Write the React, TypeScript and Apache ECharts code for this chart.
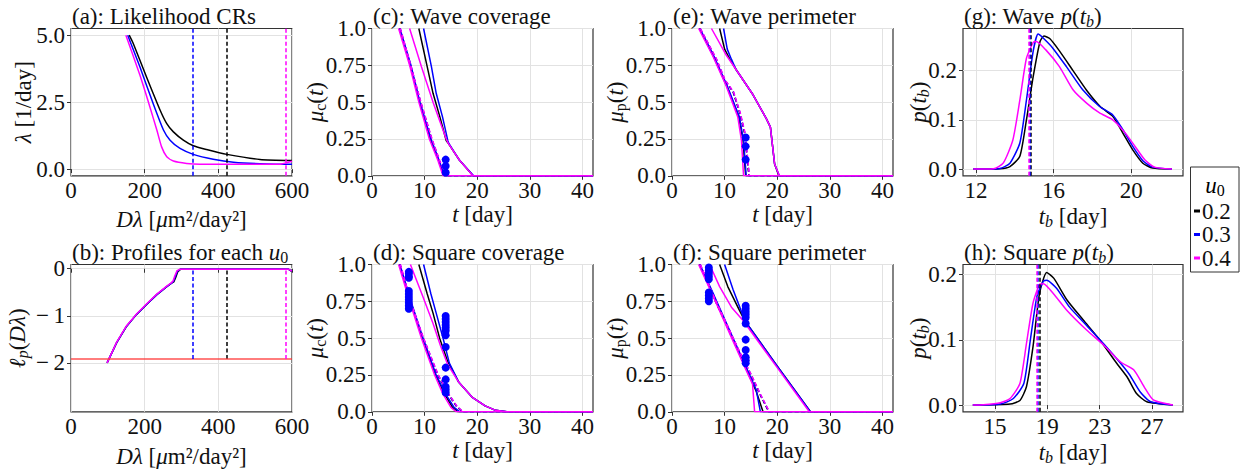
import React, { useEffect, useRef } from "react";
import * as echarts from "echarts";

// ---------- style constants ----------
const FONT = "Liberation Serif";
const FS = 23;
const TXT = "#111111";
const FRAME = "#333333";
const GRIDC = "#e2e2e2";
const COLORS = ["#000000", "#0000ff", "#ff00ff"]; // u0 = 0.2, 0.3, 0.4

// ---------- legend ----------
const u0Labels = ["0.2", "0.3", "0.4"];

// ---------- (a) likelihood CRs ----------
const aXTicks = [0, 200, 400, 600];
const aXTickLabels = ["0", "200", "400", "600"];
const aYTicks = [0, 2.5, 5];
const aYTickLabels = ["0.0", "2.5", "5.0"];
const aBlack = [[158, 5.0], [169, 4.69], [205, 3.44], [242, 2.2], [260, 1.7], [278, 1.39], [305, 1.08], [332, 0.87], [368, 0.73], [423, 0.55], [513, 0.36], [600, 0.32]];
const aBlue = [[154, 5.0], [187, 3.82], [223, 2.45], [251, 1.46], [269, 1.08], [296, 0.77], [332, 0.55], [386, 0.37], [441, 0.26], [531, 0.19], [600, 0.18]];
const aMag = [[149, 5.0], [187, 3.51], [214, 2.33], [233, 1.46], [246, 0.83], [260, 0.46], [278, 0.3], [314, 0.21], [350, 0.18], [567, 0.18], [585, 0.24], [600, 0.29]];
const mleDLambda = [423, 331, 584]; // black, blue, magenta

// ---------- (b) profiles ----------
const bYTicks = [-2, -1, 0];
const bYTickLabels = ["\u2212\u20092", "\u2212\u20091", "0"];
const bBlack = [[98, -2.0], [124, -1.57], [151, -1.22], [178, -0.97], [205, -0.76], [233, -0.55], [260, -0.38], [272, -0.31], [279, -0.28], [284, -0.19], [290, -0.06], [298, -0.01], [590, -0.01], [600, -0.06]];
const bBlue = [[98, -2.0], [124, -1.57], [151, -1.22], [178, -0.97], [205, -0.76], [233, -0.55], [260, -0.38], [272, -0.31], [278, -0.27], [283, -0.17], [289, -0.05], [297, -0.01], [590, -0.01], [600, -0.05]];
const bMag = [[98, -2.0], [124, -1.56], [151, -1.21], [178, -0.96], [205, -0.75], [233, -0.54], [260, -0.37], [272, -0.3], [277, -0.26], [282, -0.15], [288, -0.04], [296, -0.01], [590, -0.01], [600, -0.05]];
const bThreshold = -1.92;

// ---------- shared t axis (c-f) ----------
const tTicks = [0, 10, 20, 30, 40];
const tTickLabels = ["0", "10", "20", "30", "40"];
const muTicks = [0, 0.25, 0.5, 0.75, 1];
const muTickLabels = ["0.0", "0.25", "0.5", "0.75", "1.0"];

// ---------- (c) wave coverage ----------
const cLowBlack = [[5.2, 1], [7.3, 0.75], [9.05, 0.5], [11.1, 0.25], [12.7, 0.1], [13.7, 0], [42, 0]];
const cLowBlue = [[5.3, 1], [7.4, 0.75], [9.1, 0.5], [11.2, 0.25], [12.8, 0.1], [13.8, 0], [42, 0]];
const cLowMag = [[5.06, 1], [7.15, 0.75], [8.9, 0.5], [10.9, 0.25], [12.5, 0.107], [13.5, 0], [42, 0]];
const cUpBlack = [[8.9, 1], [10.5, 0.74], [11.6, 0.56], [12.9, 0.4], [14.1, 0.24], [14.5, 0.22], [16.6, 0.107], [19.2, 0], [42, 0]];
const cUpBlue = [[9.8, 1], [11.3, 0.74], [12.2, 0.56], [13.4, 0.4], [14.4, 0.24], [14.6, 0.22], [16.6, 0.107], [19.3, 0], [42, 0]];
const cUpMag = [[7.15, 1], [9.4, 0.74], [11.6, 0.5], [14.1, 0.25], [14.5, 0.22], [16.6, 0.107], [19.2, 0], [42, 0]];
const cMleBlack = [[5.3, 1], [7.5, 0.72], [9.2, 0.5], [11.3, 0.25], [12.8, 0.1], [14.1, 0], [42, 0]];
const cMleBlue = [[5.35, 1], [7.55, 0.72], [9.25, 0.5], [11.35, 0.25], [12.85, 0.1], [14.15, 0], [42, 0]];
const cMleMag = [[5.4, 1], [7.6, 0.72], [9.3, 0.5], [11.4, 0.25], [12.9, 0.1], [14.2, 0], [42, 0]];
const cDots = [[14, 0.11], [14, 0.066], [14, 0.023]];

// ---------- (d) square coverage ----------
const dLowBlack = [[5.2, 1], [7.3, 0.75], [9.6, 0.5], [12.1, 0.25], [13.8, 0.12], [15.3, 0.03], [16.3, 0], [42, 0]];
const dLowBlue = [[5.3, 1], [7.4, 0.75], [9.7, 0.5], [12.2, 0.25], [14.0, 0.12], [15.6, 0.03], [16.7, 0], [42, 0]];
const dLowMag = [[5.06, 1], [7.15, 0.75], [9.4, 0.5], [11.9, 0.25], [13.5, 0.12], [15.0, 0.03], [16.0, 0], [42, 0]];
const dUpBlack = [[8.9, 1], [10.5, 0.8], [11.6, 0.67], [12.85, 0.5], [14.4, 0.34], [16.5, 0.2], [19, 0.1], [21.5, 0.04], [23.5, 0.01], [25.6, 0], [42, 0]];
const dUpBlue = [[9.8, 1], [11.2, 0.8], [12.2, 0.67], [13.5, 0.5], [14.7, 0.33], [16.5, 0.2], [19, 0.1], [21.5, 0.04], [23.5, 0.01], [25.7, 0], [42, 0]];
const dUpMag = [[7.3, 1], [9.7, 0.78], [11.6, 0.6], [13, 0.45], [14.4, 0.32], [16.5, 0.2], [19, 0.1], [21.5, 0.04], [23.5, 0.01], [25.5, 0], [42, 0]];
const dMleBlack = [[5.3, 1], [7.5, 0.72], [9.7, 0.5], [12.5, 0.25], [14.5, 0.12], [16.0, 0.04], [17.2, 0], [42, 0]];
const dMleBlue = [[5.35, 1], [7.55, 0.72], [9.75, 0.5], [12.55, 0.25], [14.55, 0.12], [16.05, 0.04], [17.25, 0], [42, 0]];
const dMleMag = [[5.4, 1], [7.6, 0.72], [9.8, 0.5], [12.6, 0.25], [14.6, 0.12], [16.1, 0.04], [17.3, 0], [42, 0]];
const dDots = [[7, 0.95], [7, 0.94], [7, 0.92], [7, 0.91], [7, 0.82], [7, 0.8], [7, 0.78], [7, 0.76], [7, 0.74], [7, 0.72], [7, 0.7],
  [14, 0.65], [14, 0.63], [14, 0.61], [14, 0.59], [14, 0.57], [14, 0.55], [14, 0.52], [14, 0.44], [14, 0.3], [14, 0.22], [14, 0.17], [14, 0.15], [14, 0.13]];

// ---------- (e) wave perimeter ----------
const eLowBlack = [[5.2, 1], [7.9, 0.81], [10.4, 0.61], [12.7, 0.4], [13.5, 0.24], [14.0, 0], [42, 0]];
const eLowBlue = [[5.3, 1], [8.0, 0.81], [10.5, 0.61], [12.8, 0.4], [13.6, 0.24], [14.1, 0], [42, 0]];
const eLowMag = [[5.06, 1], [7.8, 0.81], [10.3, 0.61], [12.5, 0.4], [13.2, 0.24], [13.6, 0], [42, 0]];
const eUpBlack = [[9.05, 1], [10.0, 0.86], [11.0, 0.79], [12.2, 0.72], [15.4, 0.55], [17.9, 0.39], [18.7, 0.33], [19.5, 0.08], [20.3, 0], [42, 0]];
const eUpBlue = [[9.8, 1], [10.5, 0.86], [11.3, 0.79], [12.2, 0.72], [15.4, 0.55], [17.9, 0.39], [18.7, 0.33], [19.5, 0.08], [20.4, 0], [42, 0]];
const eUpMag = [[7.5, 1], [9.05, 0.9], [10.3, 0.82], [12.2, 0.72], [15.4, 0.55], [17.9, 0.39], [18.7, 0.33], [19.5, 0.08], [20.4, 0], [42, 0]];
const eMleBlack = [[5.3, 1], [8.4, 0.79], [10.0, 0.65], [11.6, 0.57], [12.85, 0.43], [13.8, 0.29], [14.5, 0.04], [14.6, 0], [42, 0]];
const eMleBlue = [[5.35, 1], [8.45, 0.79], [10.05, 0.65], [11.65, 0.57], [12.9, 0.43], [13.85, 0.29], [14.55, 0.04], [14.65, 0], [42, 0]];
const eMleMag = [[5.4, 1], [8.5, 0.79], [10.1, 0.65], [11.7, 0.57], [12.95, 0.43], [13.9, 0.29], [14.6, 0.04], [14.7, 0], [42, 0]];
const eDots = [[14, 0.26], [14, 0.2], [14, 0.11]];

// ---------- (f) square perimeter ----------
const fLowBlack = [[5.2, 1], [8, 0.78], [11.6, 0.49], [14, 0.3], [16, 0.14], [17.3, 0], [42, 0]];
const fLowBlue = [[5.3, 1], [8, 0.79], [11.6, 0.5], [14, 0.31], [16, 0.15], [16.8, 0], [42, 0]];
const fLowMag = [[5.06, 1], [8, 0.77], [11.6, 0.48], [14, 0.29], [15.3, 0.19], [15.7, 0], [42, 0]];
const fUpBlack = [[9.05, 1], [10.6, 0.85], [12.8, 0.69], [13.8, 0.62], [20, 0.31], [26.3, 0], [42, 0]];
const fUpBlue = [[10, 1], [11.6, 0.83], [13.2, 0.68], [14, 0.61], [20, 0.31], [26.3, 0], [42, 0]];
const fUpMag = [[7.15, 1], [9.05, 0.85], [11.3, 0.71], [13.5, 0.62], [20, 0.3], [26.1, 0], [42, 0]];
const fMleBlack = [[5.3, 1], [8, 0.77], [10.5, 0.58], [12.85, 0.4], [15, 0.25], [16.7, 0.12], [18.4, 0], [42, 0]];
const fMleBlue = [[5.35, 1], [8.05, 0.77], [10.55, 0.58], [12.9, 0.4], [15.05, 0.25], [16.75, 0.12], [18.45, 0], [42, 0]];
const fMleMag = [[5.4, 1], [8.1, 0.77], [10.6, 0.58], [12.95, 0.4], [15.1, 0.25], [16.8, 0.12], [18.5, 0], [42, 0]];
const fDots = [[7, 0.98], [7, 0.96], [7, 0.94], [7, 0.92], [7, 0.9], [7, 0.81], [7, 0.79], [7, 0.77], [7, 0.75],
  [14, 0.72], [14, 0.7], [14, 0.68], [14, 0.66], [14, 0.64], [14, 0.6], [14, 0.49], [14, 0.42], [14, 0.37], [14, 0.35], [14, 0.33]];

// ---------- (g) wave p(t_b) ----------
const gXTicks = [12, 16, 20];
const gXTickLabels = ["12", "16", "20"];
const pTicks = [0, 0.1, 0.2];
const pTickLabels = ["0.0", "0.1", "0.2"];
const gBlack = [[11.86, 0], [13.23, 0.0007], [13.75, 0.005], [14.26, 0.026], [14.6, 0.1], [14.95, 0.188], [15.3, 0.259], [15.5, 0.27], [15.8, 0.265], [16.3, 0.24], [17.0, 0.2], [17.7, 0.16], [18.4, 0.127], [19.05, 0.107], [19.57, 0.073], [20.08, 0.039], [20.6, 0.012], [21.1, 0.002], [22.1, 0]];
const gBlue = [[11.86, 0], [13.23, 0.0014], [13.75, 0.012], [14.26, 0.053], [14.6, 0.14], [14.95, 0.24], [15.2, 0.274], [15.46, 0.266], [15.97, 0.245], [16.66, 0.208], [17.5, 0.161], [18.37, 0.127], [19.05, 0.11], [19.57, 0.08], [20.08, 0.046], [20.6, 0.017], [21.1, 0.004], [22.1, 0]];
const gMag = [[11.86, 0], [12.9, 0.0007], [13.4, 0.012], [13.9, 0.059], [14.26, 0.14], [14.6, 0.225], [14.95, 0.257], [15.1, 0.259], [15.6, 0.242], [16.3, 0.208], [17.0, 0.161], [17.7, 0.134], [18.37, 0.114], [19.05, 0.1], [19.7, 0.073], [20.2, 0.046], [20.7, 0.019], [21.2, 0.004], [22.1, 0]];
const gMleTb = [14.83, 14.78, 14.72];

// ---------- (h) square p(t_b) ----------
const hXTicks = [15, 19, 23, 27];
const hXTickLabels = ["15", "19", "23", "27"];
const hBlack = [[13.3, 0], [16.15, 0.0015], [16.9, 0.007], [17.4, 0.028], [17.9, 0.089], [18.4, 0.171], [18.95, 0.203], [19.5, 0.194], [20.5, 0.161], [21.76, 0.13], [23.0, 0.1], [24.3, 0.064], [25.1, 0.043], [25.8, 0.018], [26.6, 0.005], [28.6, 0]];
const hBlue = [[13.3, 0], [15.4, 0.0015], [16.4, 0.01], [17.2, 0.033], [17.7, 0.1], [18.2, 0.166], [18.7, 0.19], [18.95, 0.191], [19.7, 0.179], [20.7, 0.15], [22.0, 0.122], [23.3, 0.094], [24.6, 0.064], [25.3, 0.046], [26.1, 0.02], [26.9, 0.005], [28.6, 0]];
const hMag = [[13.3, 0], [14.1, 0.0005], [15.4, 0.0036], [16.15, 0.01], [16.9, 0.033], [17.4, 0.094], [17.9, 0.156], [18.4, 0.185], [18.7, 0.186], [19.45, 0.171], [20.5, 0.145], [22.0, 0.115], [23.3, 0.092], [24.6, 0.066], [25.6, 0.054], [26.4, 0.028], [27.1, 0.008], [28.6, 0]];
const hMleTb = [18.4, 18.27, 18.2];

// ---------- text styles ----------
const LH = 22;
const RICH: any = {
  n: { fontFamily: FONT, fontSize: FS, color: TXT, lineHeight: LH },
  i: { fontFamily: FONT, fontSize: FS, fontStyle: "italic", color: TXT, lineHeight: LH },
  s: { fontFamily: FONT, fontSize: 16, color: TXT, lineHeight: 12, padding: [10, 0, 0, 0] },
  si: { fontFamily: FONT, fontSize: 16, fontStyle: "italic", color: TXT, lineHeight: 12, padding: [10, 0, 0, 0] },
};

const TITLES = [
  "{n|(a): Likelihood CRs}",
  "{n|(b): Profiles for each }{i|u}{s|0}",
  "{n|(c): Wave coverage}",
  "{n|(d): Square coverage}",
  "{n|(e): Wave perimeter}",
  "{n|(f): Square perimeter}",
  "{n|(g): Wave }{i|p}{n|(}{i|t}{si|b}{n|)}",
  "{n|(h): Square }{i|p}{n|(}{i|t}{si|b}{n|)}",
];
const X_DL = "{i|Dλ}{n| [}{i|μ}{n|m²/day²]}";
const X_T = "{i|t}{n| [day]}";
const X_TB = "{i|t}{si|b}{n| [day]}";
const Y_A = "{i|λ}{n| [1/day]}";
const Y_B = "{i|ℓ}{si|p}{n|(}{i|Dλ}{n|)}";
const Y_C = "{i|μ}{s|c}{n|(}{i|t}{n|)}";
const Y_E = "{i|μ}{s|p}{n|(}{i|t}{n|)}";
const Y_G = "{i|p}{n|(}{i|t}{si|b}{n|)}";
const X_NAMES = [X_DL, X_DL, X_T, X_T, X_T, X_T, X_TB, X_TB];
const Y_NAMES = [Y_A, Y_B, Y_C, Y_C, Y_E, Y_E, Y_G, Y_G];

// grid boxes (a,b,c,d,e,f,g,h): left, top, width
const BOXES = [
  [71, 28.5, 221], [71, 264.5, 221],
  [372, 28.5, 221], [372, 264.5, 221],
  [672, 28.5, 221], [672, 264.5, 221],
  [963, 28.5, 220], [963, 264.5, 220],
];
const BOX_H = 147.3;
// text anchor offsets (px from the frame) = visual centres
const TITLE_DY = 12;
const Y_NAME_DX = [48, 54, 57, 57, 57, 57, 45, 45];
const X_NAME_DY = [44, 45, 39, 39, 39, 39, 41, 41];
const LEGEND_TEXT_Y = [185, 211, 234.5, 258];

function fmt(ticks: number[], labels: string[]) {
  return (v: number) => {
    const k = ticks.findIndex((t) => Math.abs(t - v) < 1e-9);
    return k >= 0 ? labels[k] : "";
  };
}

function axis(gi: number, min: number, max: number, ticks: number[], labels: string[]) {
  return {
    type: "value",
    gridIndex: gi,
    min,
    max,
    axisLine: { show: false },
    axisTick: { show: true, inside: false, length: 4, customValues: ticks, lineStyle: { color: FRAME, width: 1 } },
    axisLabel: {
      show: true,
      customValues: ticks,
      formatter: fmt(ticks, labels),
      fontFamily: FONT,
      fontSize: FS,
      lineHeight: 18,
      color: TXT,
      margin: 6,
    },
    splitLine: { show: true, lineStyle: { color: GRIDC, width: 1 } },
    splitArea: { show: false },
  };
}

function line(gi: number, data: number[][], color: string, opts: any = {}) {
  return {
    type: "line",
    xAxisIndex: gi,
    yAxisIndex: gi,
    data,
    symbol: "none",
    showSymbol: false,
    silent: true,
    clip: true,
    smooth: opts.smooth ?? false,
    z: opts.z ?? 3,
    color,
    lineStyle: { color, width: 1.5, type: opts.dash ? [4, 2.5] : "solid" },
    emphasis: { disabled: true },
    markLine: opts.markLine,
  };
}

function vMarks(color: string, items: any[]) {
  return {
    silent: true,
    symbol: ["none", "none"],
    label: { show: false },
    emphasis: { disabled: true },
    lineStyle: { color, width: 1.5, type: [4, 2.5] },
    data: items,
  };
}

function dots(gi: number, data: number[][]) {
  return {
    type: "scatter",
    xAxisIndex: gi,
    yAxisIndex: gi,
    data,
    symbol: "circle",
    symbolSize: 8,
    silent: true,
    z: 5,
    itemStyle: { color: "#0000ff", opacity: 1 },
    emphasis: { disabled: true },
  };
}

function buildOption() {
  const grid = BOXES.map(([l, t, w]) => ({
    left: l,
    top: t,
    width: w,
    height: BOX_H,
    show: true,
    borderColor: FRAME,
    borderWidth: 1.2,
    backgroundColor: "transparent",
    containLabel: false,
    outerBoundsMode: "none",
  }));

  const xAxis = [
    axis(0, 0, 600, aXTicks, aXTickLabels),
    axis(1, 0, 600, aXTicks, aXTickLabels),
    axis(2, 0, 42, tTicks, tTickLabels),
    axis(3, 0, 42, tTicks, tTickLabels),
    axis(4, 0, 42, tTicks, tTickLabels),
    axis(5, 0, 42, tTicks, tTickLabels),
    axis(6, 11.33, 22.67, gXTicks, gXTickLabels),
    axis(7, 12.55, 29.37, hXTicks, hXTickLabels),
  ];
  const yAxis = [
    axis(0, -0.25, 5.25, aYTicks, aYTickLabels),
    axis(1, -3.04, 0.09, bYTicks, bYTickLabels),
    axis(2, 0, 1, muTicks, muTickLabels),
    axis(3, 0, 1, muTicks, muTickLabels),
    axis(4, 0, 1, muTicks, muTickLabels),
    axis(5, 0, 1, muTicks, muTickLabels),
    axis(6, -0.0136, 0.2854, pTicks, pTickLabels),
    axis(7, -0.0103, 0.2153, pTicks, pTickLabels),
  ];

  const series: any[] = [];
  // (a)
  [aBlack, aBlue, aMag].forEach((d, k) => {
    series.push(line(0, d, COLORS[k], { smooth: 0.2, markLine: vMarks(COLORS[k], [{ xAxis: mleDLambda[k] }]) }));
  });
  // (b)
  [bBlack, bBlue, bMag].forEach((d, k) => {
    const items: any[] = [[{ coord: [mleDLambda[k], bThreshold] }, { coord: [mleDLambda[k], 0] }]];
    if (k === 0) items.push({ yAxis: bThreshold, lineStyle: { color: "#ff3333", type: "solid", width: 1.5, opacity: 0.85 } });
    series.push(line(1, d, COLORS[k], { markLine: vMarks(COLORS[k], items) }));
  });
  // (c)-(f)
  const bands = [
    [2, [cLowBlack, cLowBlue, cLowMag], [cUpBlack, cUpBlue, cUpMag], [cMleBlack, cMleBlue, cMleMag], cDots],
    [3, [dLowBlack, dLowBlue, dLowMag], [dUpBlack, dUpBlue, dUpMag], [dMleBlack, dMleBlue, dMleMag], dDots],
    [4, [eLowBlack, eLowBlue, eLowMag], [eUpBlack, eUpBlue, eUpMag], [eMleBlack, eMleBlue, eMleMag], eDots],
    [5, [fLowBlack, fLowBlue, fLowMag], [fUpBlack, fUpBlue, fUpMag], [fMleBlack, fMleBlue, fMleMag], fDots],
  ] as any[];
  bands.forEach(([gi, lows, ups, mles, ds]) => {
    for (let k = 0; k < 3; k++) {
      series.push(line(gi, lows[k], COLORS[k], { z: 3 + k * 0.1 }));
      series.push(line(gi, ups[k], COLORS[k], { z: 3 + k * 0.1 }));
      series.push(line(gi, mles[k], COLORS[k], { dash: true, z: 3 + k * 0.1 }));
    }
    series.push(dots(gi, ds));
  });
  // (g)
  [gBlack, gBlue, gMag].forEach((d, k) => {
    series.push(line(6, d, COLORS[k], { smooth: 0.2, markLine: vMarks(COLORS[k], [{ xAxis: gMleTb[k] }]) }));
  });
  // (h)
  [hBlack, hBlue, hMag].forEach((d, k) => {
    series.push(line(7, d, COLORS[k], { smooth: 0.2, markLine: vMarks(COLORS[k], [{ xAxis: hMleTb[k] }]) }));
  });

  const graphic: any[] = [];
  BOXES.forEach(([l, t, w], i) => {
    graphic.push({
      type: "text",
      x: l + 1,
      y: t - TITLE_DY,
      z: 12,
      style: { text: TITLES[i], rich: RICH, fontFamily: FONT, fontSize: FS, fill: TXT, align: "left", verticalAlign: "middle" },
    });
    graphic.push({
      type: "text",
      x: l + w / 2,
      y: t + BOX_H + X_NAME_DY[i],
      z: 12,
      style: { text: X_NAMES[i], rich: RICH, fontFamily: FONT, fontSize: FS, fill: TXT, align: "center", verticalAlign: "middle" },
    });
    graphic.push({
      type: "text",
      x: l - Y_NAME_DX[i],
      y: t + BOX_H / 2,
      rotation: Math.PI / 2,
      z: 12,
      style: { text: Y_NAMES[i], rich: RICH, fontFamily: FONT, fontSize: FS, fill: TXT, align: "center", verticalAlign: "middle" },
    });
  });

  graphic.push(
    { type: "rect", shape: { x: 1190.5, y: 167, width: 48.5, height: 105 }, style: { fill: "#ffffff", stroke: FRAME, lineWidth: 1 }, z: 10 },
    { type: "text", x: 1215, y: LEGEND_TEXT_Y[0], z: 11, style: { text: "{i|u}{s|0}", rich: RICH, align: "center", verticalAlign: "middle" } },
  );
  u0Labels.forEach((lab, k) => {
    const yc = LEGEND_TEXT_Y[k + 1];
    graphic.push({ type: "rect", z: 11, shape: { x: 1194, y: yc - 1.5, width: 6, height: 3 }, style: { fill: COLORS[k] } });
    graphic.push({
      type: "text",
      z: 11,
      x: 1202,
      y: yc,
      style: { text: lab, fontFamily: FONT, fontSize: FS, fill: TXT, align: "left", verticalAlign: "middle" },
    });
  });

  return {
    animation: false,
    backgroundColor: "#ffffff",
    textStyle: { fontFamily: FONT },
    grid,
    xAxis,
    yAxis,
    series,
    graphic,
    tooltip: { show: false },
  };
}

function App() {
  const ref = useRef<HTMLDivElement>(null);
  useEffect(() => {
    const chart = echarts.init(ref.current as HTMLDivElement, null, { renderer: "svg" });
    chart.setOption(buildOption() as any);
    return () => chart.dispose();
  }, []);
  return (
    <div
      ref={ref}
      style={{ position: "relative", left: -8, top: -8, width: 1250, height: 473, background: "#ffffff" }}
    />
  );
}

export default App;
